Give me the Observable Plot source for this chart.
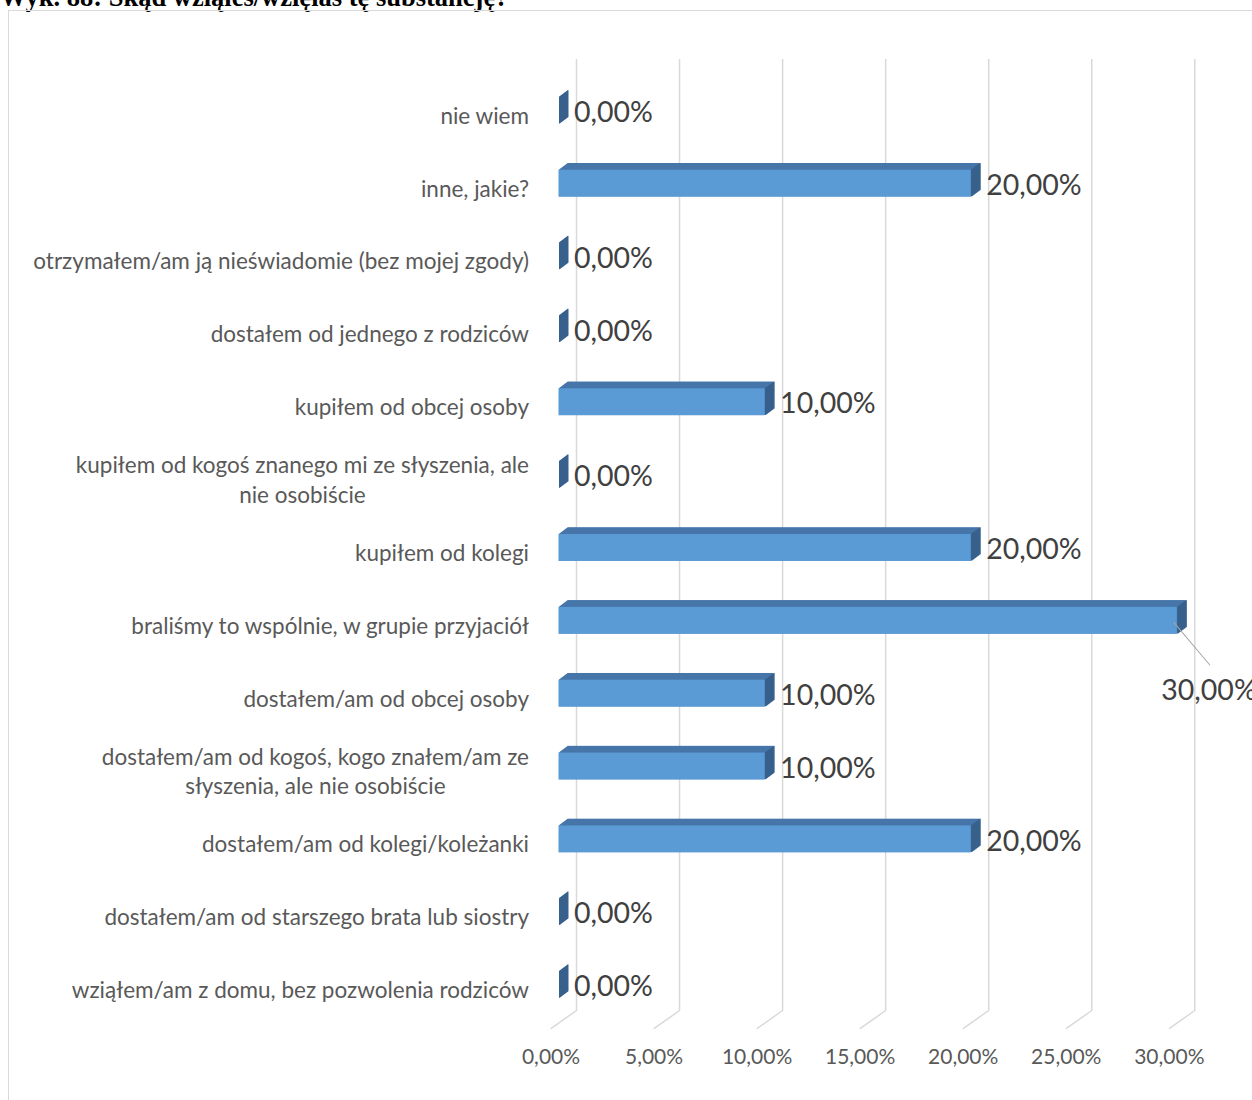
<!DOCTYPE html>
<html><head><meta charset="utf-8">
<script src="https://cdn.jsdelivr.net/npm/d3@7"></script>
<script src="https://cdn.jsdelivr.net/npm/@observablehq/plot@0.6"></script>
<style>
body{margin:0;background:#fff;overflow:hidden;}
#wrap{position:relative;width:1252px;height:1100px;overflow:hidden;background:#fff;}
#title{position:absolute;left:0;top:-16px;font:bold 26.5px/27px "Liberation Serif";color:#000;white-space:nowrap;}
#frame{position:absolute;left:8px;top:10px;width:1400px;height:1200px;border:1px solid #d9d9d9;}
#chart{position:absolute;left:0;top:0;}
</style></head><body>
<div id="wrap"><div id="title">Wyk. 88: Skąd wziąłeś/wzięłaś tę substancję?</div><div id="frame"></div><div id="chart"></div></div>
<script>
const categories = [
  "nie wiem",
  "inne, jakie?",
  "otrzymałem/am ją nieświadomie (bez mojej zgody)",
  "dostałem od jednego z rodziców",
  "kupiłem od obcej osoby",
  "kupiłem od kogoś znanego mi ze słyszenia, ale\nnie osobiście",
  "kupiłem od kolegi",
  "braliśmy to wspólnie, w grupie przyjaciół",
  "dostałem/am od obcej osoby",
  "dostałem/am od kogoś, kogo znałem/am ze\nsłyszenia, ale nie osobiście",
  "dostałem/am od kolegi/koleżanki",
  "dostałem/am od starszego brata lub siostry",
  "wziąłem/am z domu, bez pozwolenia rodziców"
];
const values = [0, 20, 0, 0, 10, 0, 20, 30, 10, 10, 20, 0, 0];
const xTicks = [0, 5, 10, 15, 20, 25, 30];

const data = categories.map((c, i) => ({category: c, value: values[i]}));
const maxV = d3.max(values);
const fmt = v => v.toFixed(2).replace(".", ",") + "%";

const FRONT = "#5B9BD5", TOP = "#4676A9", SIDE = "#38618C", GRID = "#D9D9D9";
const depth = d3.range(0.5, 9.01, 0.5);
const slope = 0.75;
const line = {draw(ctx, l) { ctx.moveTo(0, 0); ctx.lineTo(0, -l); }};

const chart = Plot.plot({
  width: 1252, height: 1100,
  marginLeft: 558.5, marginRight: 75.2, marginTop: 59, marginBottom: 90,
  x: {domain: [0, 30], axis: null},
  y: {domain: categories, range: [51, 1044], paddingInner: 0.63, paddingOuter: 0.63, round: false, axis: null},
  style: {background: "transparent", fontFamily: "Lato"},
  marks: [
    Plot.ruleX(xTicks, {x: d => d, dx: 17.5, stroke: GRID, strokeWidth: 1.5}),
    Plot.vector(xTicks, {x: d => d, frameAnchor: "bottom", dx: 17.5, length: 31, rotate: 234.7, anchor: "start", shape: line, stroke: GRID, strokeWidth: 1.5}),
    ...depth.map(k => Plot.barX(data, {x: "value", y: "category", dx: k, dy: -k * slope, fill: TOP})),
    ...depth.map(k => Plot.tickX(data, {x: "value", y: "category", dx: k, dy: -k * slope, stroke: SIDE, strokeWidth: 1})),
    Plot.barX(data, {x: "value", y: "category", fill: FRONT}),
    Plot.text(data.filter(d => d.value < maxV), {x: "value", y: "category", text: d => fmt(d.value), textAnchor: "start", dx: 15, dy: 2, fontSize: 28.5, fill: "#404040"}),
    Plot.vector(data.filter(d => d.value === maxV), {x: "value", y: "category", dx: -3.5, dy: 1.5, length: 55.8, rotate: 139.8, anchor: "start", shape: line, stroke: "#A6A6A6", strokeWidth: 1}),
    Plot.text(data.filter(d => d.value === maxV), {x: "value", y: "category", text: d => fmt(d.value), textAnchor: "start", dx: -16, dy: 70, fontSize: 28.5, fill: "#404040"}),
    Plot.text(data, {x: () => 0, y: "category", text: "category", textAnchor: "end", lineAnchor: "middle", lineHeight: 1.3, dx: -30, dy: 3.5, fontSize: 22.5, fill: "#595959"}),
    Plot.text(xTicks, {x: d => d, frameAnchor: "bottom", dy: 53, dx: -8, text: d => fmt(d), fontSize: 21, fill: "#595959"})
  ]
});
document.getElementById("chart").appendChild(chart);

// center multi-line category labels relative to each other, keeping right edge
chart.querySelectorAll("text").forEach(t => {
  const spans = Array.from(t.querySelectorAll("tspan"));
  if (spans.length < 2) return;
  const maxW = d3.max(spans, s => s.getComputedTextLength());
  t.setAttribute("text-anchor", "middle");
  spans.forEach(s => {
    const base = s.hasAttribute("x") ? +s.getAttribute("x") : (t.hasAttribute("x") ? +t.getAttribute("x") : 0);
    s.setAttribute("x", base - maxW / 2);
  });
});
</script>
</body></html>
